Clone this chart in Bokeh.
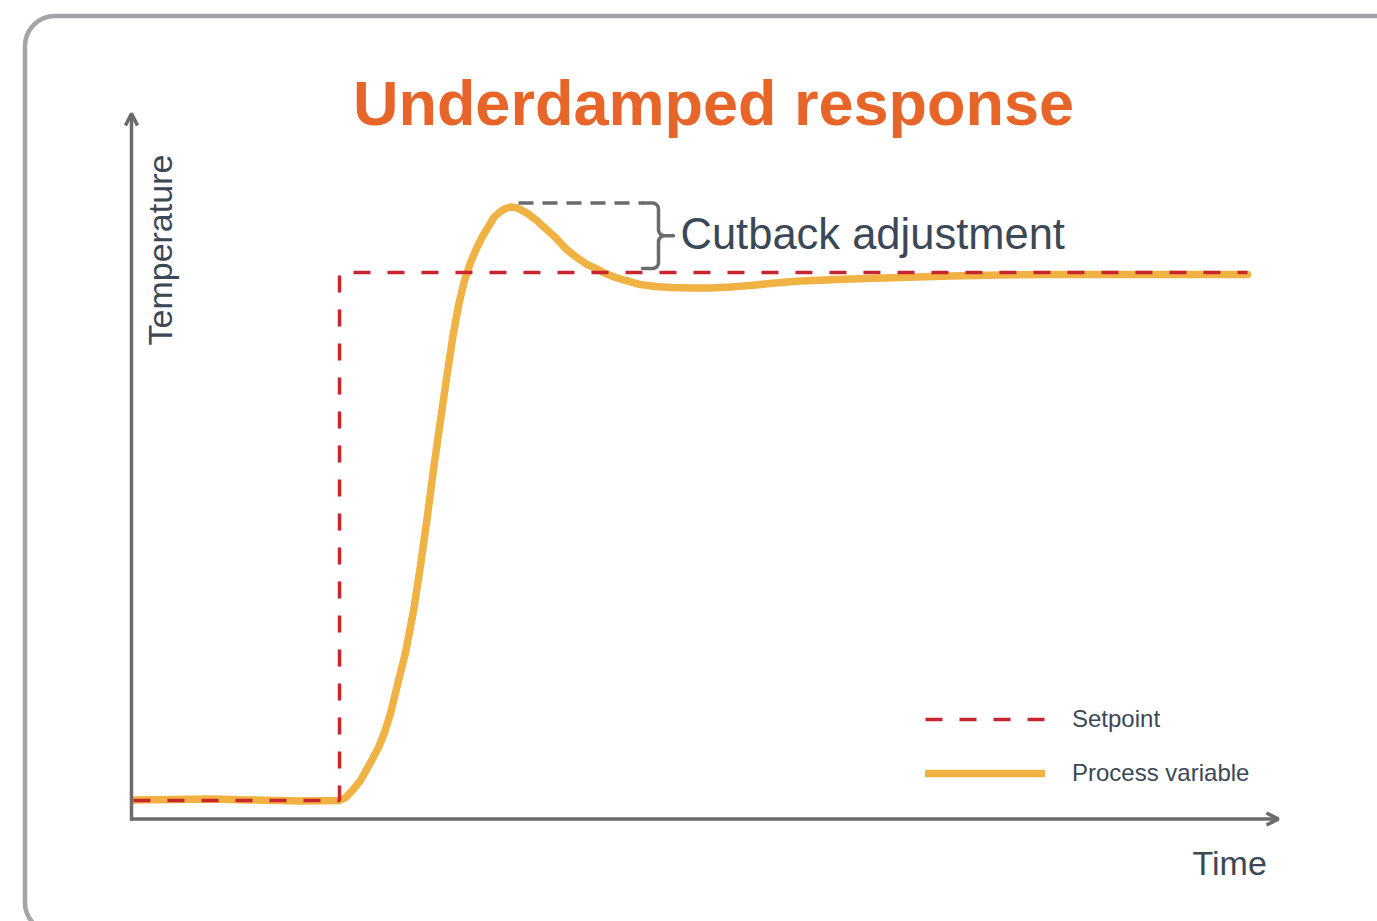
import math
import numpy as np
from bokeh.plotting import figure
from bokeh.models import Range1d, Label, Arrow, OpenHead, BoxAnnotation, Legend, LegendItem
from bokeh.embed import file_html
from bokeh.resources import INLINE

# ---------------- data ----------------
time_pv = [0.19, 3.75, 7.60, 11.44, 16.25, 20.00, 20.58, 21.25, 22.02, 22.88, 23.75, 24.33,
           24.90, 25.67, 26.35, 27.12, 27.79, 28.46, 29.13, 29.71, 30.29, 30.87,
           31.44, 32.02, 32.60, 33.17, 33.75, 34.33, 34.90, 35.48, 35.96, 36.44, 36.92,
           37.40, 38.08, 38.85, 39.81, 40.77, 41.73, 42.69, 43.65, 44.62, 45.58, 46.54,
           47.50, 48.94, 50.38, 51.83, 53.75, 55.67, 57.60, 59.52, 60.96, 62.40, 64.33,
           69.13, 73.94, 78.75, 83.56, 88.37, 94.42, 100.87, 107.31]
temp_pv = [20.08, 20.15, 20.23, 20.08, 19.92, 20.00, 20.45, 21.52, 23.03, 25.45, 28.03, 30.30,
           33.18, 38.18, 42.42, 48.79, 55.61, 63.18, 71.21, 77.58, 83.94, 90.00,
           95.00, 98.79, 101.52, 103.64, 105.45, 106.97, 108.48, 109.24, 109.70, 109.92, 109.85,
           109.55, 108.94, 108.03, 106.67, 105.30, 103.64, 102.42, 101.36, 100.61, 99.85, 99.24,
           98.79, 98.18, 97.88, 97.73, 97.65, 97.65, 97.80, 98.03, 98.26, 98.48, 98.71,
           99.02, 99.24, 99.47, 99.62, 99.70, 99.70, 99.70, 99.70]
time_sp = [0.19, 20.0, 20.0, 107.31]
temp_sp = [20.0, 20.0, 100.0, 100.0]
setpoint = 100.0

title_text = "Underdamped response"
x_label = "Time"
y_label = "Temperature"
annot_text = "Cutback adjustment"
legend_labels = ["Setpoint", "Process variable"]

# ---------------- styling ----------------
ORANGE = "#f0b242"
RED = "#c9252e"
GRAY = "#6b6b6b"
TEXT = "#3b4855"
TITLE = "#e8652a"
FRAME = "#a3a3a8"
FONT = "Liberation Sans"
BASE_SHIFT = 0.385  # em offset of Bokeh's alphabetic anchor

W, H = 1377, 921
PXT, PXY = 10.4, 6.6          # pixels per data unit
ORG_X, BASE_Y = 131.0, 800.0  # canvas position of t=0 and of T=20

def tx(px):
    return (px - ORG_X) / PXT

def ty(py):
    return 20.0 + (BASE_Y - py) / PXY

def px_of(t):
    return ORG_X + t * PXT

def py_of(T):
    return BASE_Y - (T - 20.0) * PXY

p = figure(width=W, height=H, output_backend="svg", toolbar_location=None,
           x_range=Range1d(tx(0), tx(W)), y_range=Range1d(ty(H), ty(0)),
           x_axis_location=None, y_axis_location=None, min_border=0,
           outline_line_color=None, background_fill_color="white")
p.grid.visible = False

# frame
p.add_layout(BoxAnnotation(left=tx(24.5), right=tx(1405), top=ty(15.5), bottom=ty(932),
                           border_radius=30, fill_color=None, fill_alpha=0,
                           line_color=FRAME, line_alpha=1.0, line_width=4.5))

# axes arrows
p.add_layout(Arrow(end=OpenHead(size=12, line_color=GRAY, line_width=3.5),
                   x_start=tx(131), y_start=ty(820), x_end=tx(131), y_end=ty(113),
                   line_color=GRAY, line_width=3.5))
p.add_layout(Arrow(end=OpenHead(size=12, line_color=GRAY, line_width=3.5),
                   x_start=tx(129.5), y_start=ty(818.5), x_end=tx(1278), y_end=ty(818.5),
                   line_color=GRAY, line_width=3.5))

# data lines
pv = p.line(time_pv, temp_pv, line_color=ORANGE, line_width=7.5,
            line_join="round", line_cap="round")
sp = p.line(time_sp, temp_sp, line_color=RED, line_width=3.5, line_dash="17 17")

# cutback bracket (derived from peak and setpoint)
peak = max(temp_pv)
peak_t = time_pv[temp_pv.index(peak)]
yt = py_of(peak) - 4
yb = py_of(setpoint) - 4
ym = (yt + yb) / 2
xl = px_of(peak_t) + 8

p.line([tx(xl), tx(643)], [ty(yt), ty(yt)], line_color=GRAY, line_width=3.5,
       line_dash="15 9")

def arc(cx, cy, r, a0, a1, n=7):
    a = np.radians(np.linspace(a0, a1, n))
    return list(cx + r * np.cos(a)), list(cy + r * np.sin(a))

bx, by = [642.0], [yt]
for seg in [arc(652, yt + 6, 6, -90, 0), arc(664, ym - 6, 6, 180, 90)]:
    bx += seg[0]; by += seg[1]
bx += [673.0, 664.0]; by += [ym, ym]
for seg in [arc(664, ym + 6, 6, 270, 180), arc(652, yb - 6, 6, 0, 90)]:
    bx += seg[0]; by += seg[1]
bx += [642.0]; by += [yb]
p.line([tx(v) for v in bx], [ty(v) for v in by], line_color=GRAY, line_width=3.5,
       line_join="round", line_cap="round")

# texts
def label(text, x, baseline, size, color=TEXT, style="normal", align="left"):
    return Label(x=tx(x), y=ty(baseline - BASE_SHIFT * size), text=text, text_align=align,
                 text_baseline="alphabetic", text_font=FONT, text_font_style=style,
                 text_font_size=f"{size}px", text_color=color)

p.add_layout(label(title_text, 713, 127, 63, TITLE, "bold", "center"))
p.add_layout(label(annot_text, 680, 250, 43.5))
p.add_layout(label(x_label, 1192, 876, 34))
p.add_layout(Label(x=tx(173 - BASE_SHIFT * 34), y=ty(345), text=y_label, text_align="left",
                   angle=math.pi / 2, text_baseline="alphabetic", text_font=FONT,
                   text_font_size="34px", text_color=TEXT))

# legend
legend = Legend(items=[LegendItem(label=legend_labels[0], renderers=[sp]),
                       LegendItem(label=legend_labels[1], renderers=[pv])],
                location=(925, H - 788), orientation="vertical", glyph_width=120,
                glyph_height=30, spacing=24, padding=0, margin=0, label_standoff=27,
                label_text_font=FONT, label_text_font_size="24px",
                label_text_color=TEXT, border_line_color=None,
                background_fill_alpha=0)
p.add_layout(legend)

open("out.html", "w").write(file_html(p, INLINE))
